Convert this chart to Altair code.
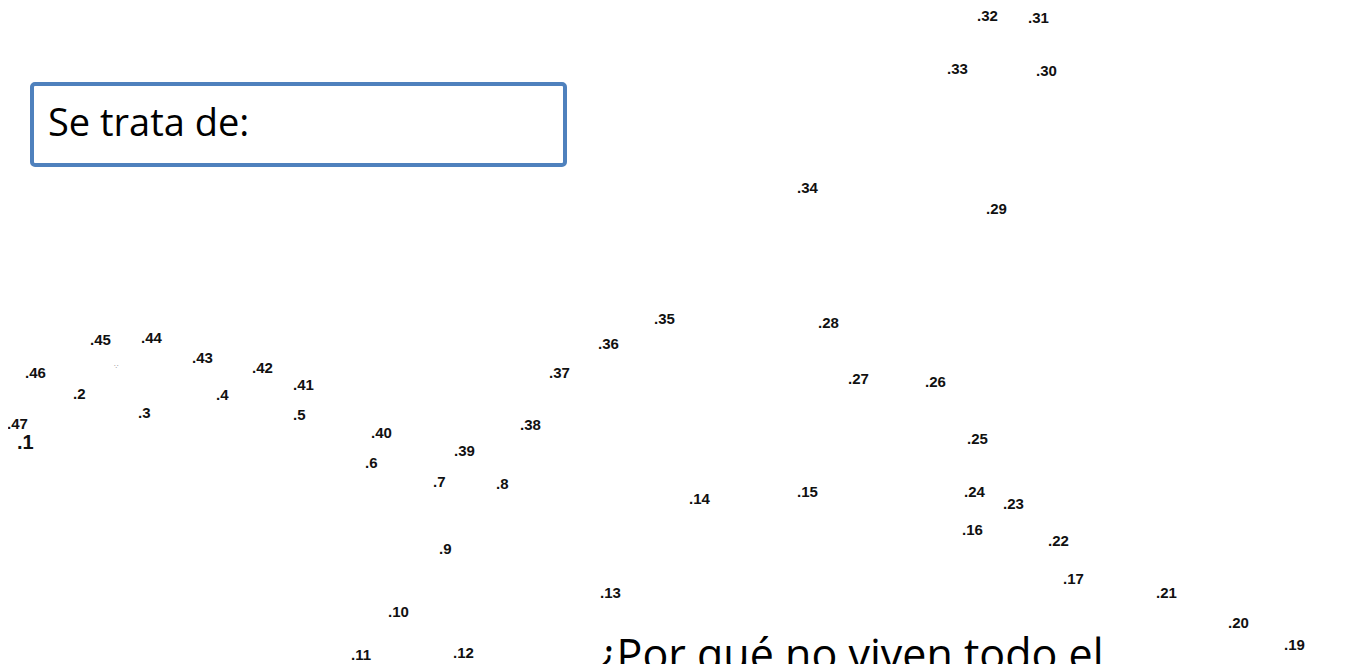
import altair as alt
import pandas as pd

# dot numbers and their positions (image pixel coordinates)
nums = [1, 2, 3, 4, 5, 6, 7, 8, 9, 10, 11, 12, 13, 14, 15, 16, 17, 19, 20, 21, 22, 23, 24,
        25, 26, 27, 28, 29, 30, 31, 32, 33, 34, 35, 36, 37, 38, 39, 40, 41, 42, 43, 44, 45, 46, 47]
xs = [17, 73, 138, 216, 293, 365, 433, 496, 439, 388, 351, 453, 600, 689, 797, 962, 1063, 1284, 1228, 1156, 1048, 1003, 964,
      967, 925, 848, 818, 986, 1036, 1028, 977, 947, 797, 654, 598, 549, 520, 454, 371, 293, 252, 192, 141, 90, 25, 7]
ys = [443, 394, 413, 395, 415, 463, 482, 484, 549, 612, 655, 653, 593, 499, 492, 530, 579, 645, 623, 593, 541, 504, 492,
      439, 382, 379, 323, 209, 71, 18, 16, 69, 188, 319, 344, 373, 425, 451, 433, 385, 368, 358, 338, 340, 373, 424]
sizes = [20] + [15] * (len(nums) - 1)

box_x = [32, 565]
box_y = [84, 165]
box_text = ["Se trata de:"]
box_text_pos = [48, 125]

question = ["¿Por qué no viven todo el"]
question_pos = [598, 670]

df = pd.DataFrame({"label": [f".{n}" for n in nums], "x": xs, "y": ys, "size": sizes})
box_df = pd.DataFrame({"x": [box_x[0]], "x2": [box_x[1]], "y": [box_y[0]], "y2": [box_y[1]]})
bt_df = pd.DataFrame({"t": box_text, "x": [box_text_pos[0]], "y": [box_text_pos[1]]})
q_df = pd.DataFrame({"t": question, "x": [question_pos[0]], "y": [question_pos[1]]})
mark_df = pd.DataFrame({"t": ["∵"], "x": [114], "y": [367]})

xs_ = alt.Scale(domain=[8, 1347], nice=False, zero=False)
ys_ = alt.Scale(domain=[8, 664], reverse=True, nice=False, zero=False)

box = alt.Chart(box_df).mark_rect(fill="white", stroke="#4F81BD", strokeWidth=4, cornerRadius=3).encode(
    x=alt.X("x:Q", scale=xs_, axis=None), x2="x2:Q",
    y=alt.Y("y:Q", scale=ys_, axis=None), y2="y2:Q")

btext = alt.Chart(bt_df).mark_text(align="left", baseline="middle", font="Open Sans", fontSize=38, color="black").encode(
    x=alt.X("x:Q", scale=xs_, axis=None), y=alt.Y("y:Q", scale=ys_, axis=None), text="t:N")

labels = alt.Chart(df).mark_text(align="left", baseline="middle", font="Liberation Sans", fontWeight="bold", color="#111").encode(
    x=alt.X("x:Q", scale=xs_, axis=None), y=alt.Y("y:Q", scale=ys_, axis=None), text="label:N",
    size=alt.Size("size:Q", scale=None, legend=None))

qtext = alt.Chart(q_df).mark_text(align="left", baseline="alphabetic", font="Open Sans", fontSize=43, color="black", clip=True).encode(
    x=alt.X("x:Q", scale=xs_, axis=None), y=alt.Y("y:Q", scale=ys_, axis=None), text="t:N")

tiny = alt.Chart(mark_df).mark_text(align="left", baseline="middle", fontSize=7, color="#999").encode(
    x=alt.X("x:Q", scale=xs_, axis=None), y=alt.Y("y:Q", scale=ys_, axis=None), text="t:N")

chart = alt.layer(box, btext, labels, qtext, tiny).properties(
    width=1339, height=656, padding=0, autosize="none", background="white"
).configure_view(stroke=None)

chart.save("out.html", embed_options={"renderer": "svg", "actions": False})
